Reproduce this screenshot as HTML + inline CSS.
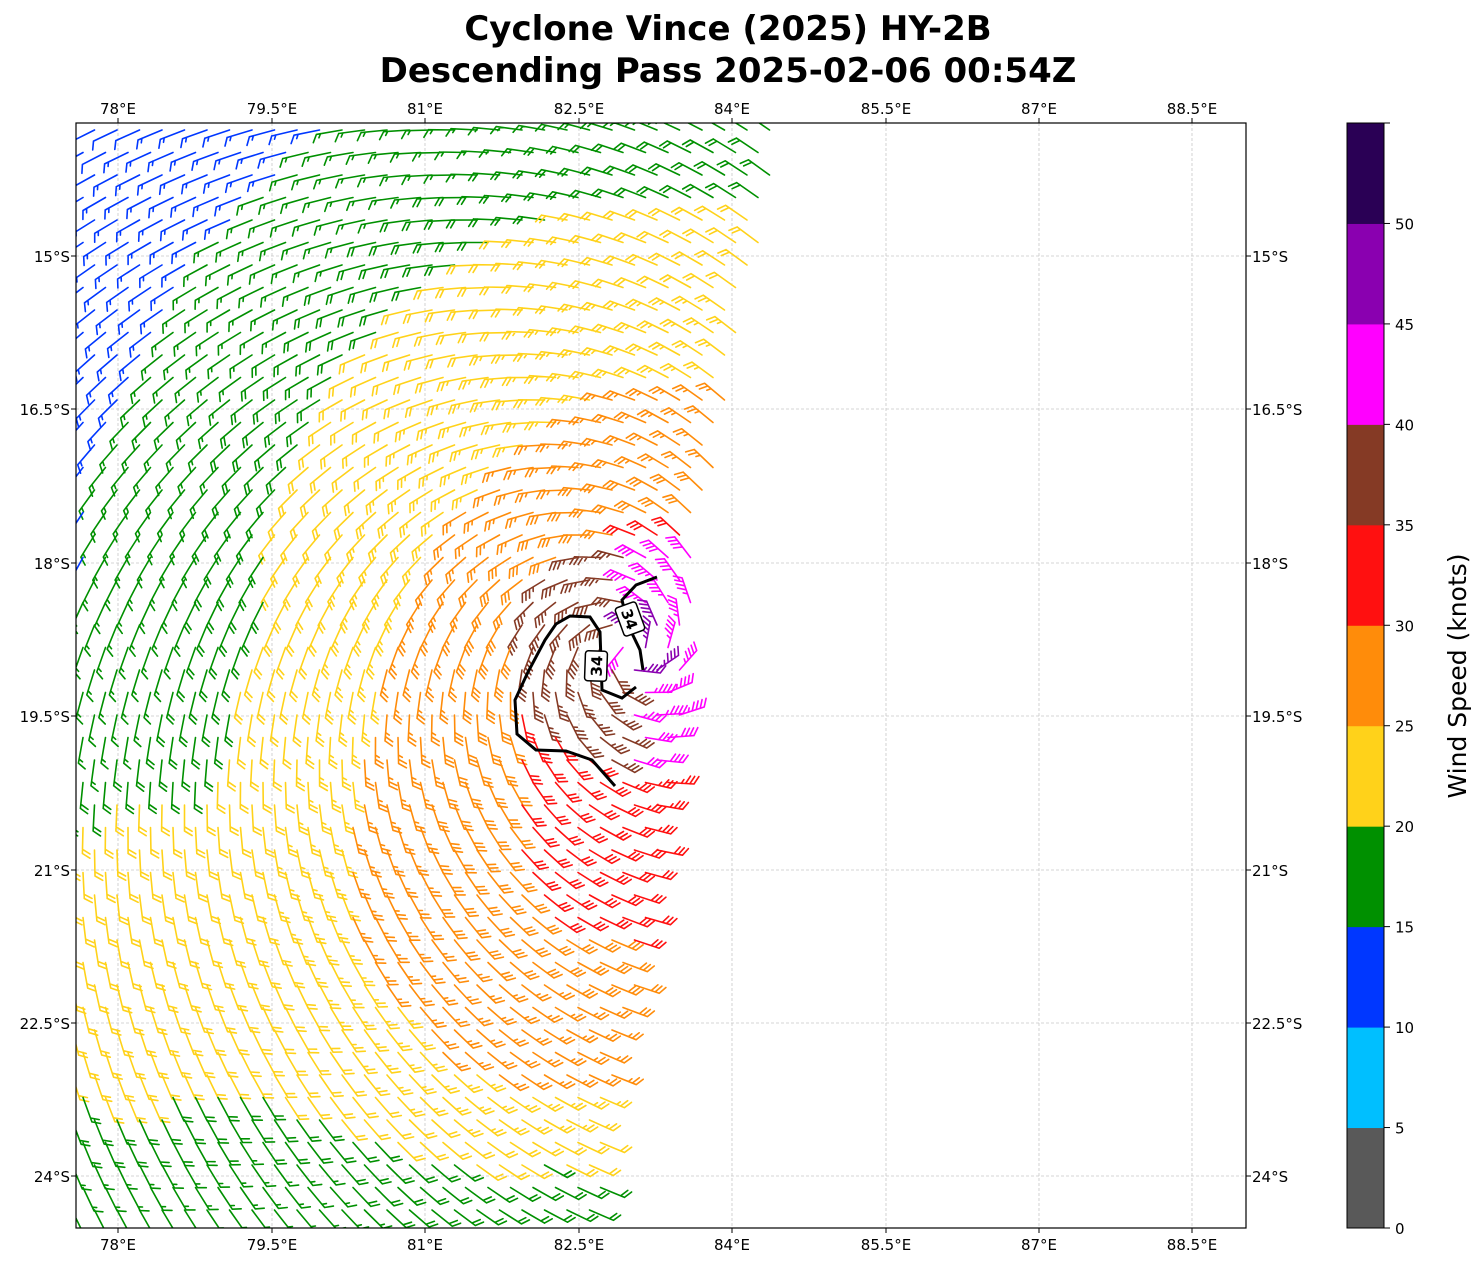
<!DOCTYPE html>
<html><head><meta charset="utf-8"><style>
body{margin:0;background:#fff;}
svg text{font-family:"DejaVu Sans","Liberation Sans",sans-serif;}
</style></head><body>
<svg id="s" width="1484" height="1264" xmlns="http://www.w3.org/2000/svg">
<defs><clipPath id="c"><rect x="76" y="123" width="1170" height="1105"/></clipPath></defs>
<rect width="1484" height="1264" fill="#fff"/>
<text x="728" y="40" font-size="34" font-weight="bold" text-anchor="middle">Cyclone Vince (2025) HY-2B</text>
<text x="728" y="82" font-size="34" font-weight="bold" text-anchor="middle">Descending Pass 2025-02-06 00:54Z</text>
<g id="grid" stroke="#c8c8c8" stroke-width="0.8" stroke-dasharray="3,2"></g>
<g id="barbs" clip-path="url(#c)" stroke-width="1.6" fill="none" stroke-linecap="round"></g>
<g fill="none" stroke="#000" stroke-width="3" clip-path="url(#c)">
<path d="M657,577 L636,585 L622,600 L628,625 L640,650 L643,670"/>
<path d="M636,687 L622,698 L602,690 L600,632 L590,617 L570,616 L556,624 L545,640 L528,672 L515,700 L517,734 L536,750 L566,751 L592,760 L615,786"/>
</g>
<g transform="translate(630,619) rotate(70)"><rect x="-15" y="-11" width="30" height="22" rx="3" fill="#fff" stroke="#000" stroke-width="1.5"/><text x="0" y="6" font-size="15" font-weight="bold" text-anchor="middle">34</text></g>
<g transform="translate(596,666) rotate(-88)"><rect x="-15" y="-11" width="30" height="22" rx="3" fill="#fff" stroke="#000" stroke-width="1.5"/><text x="0" y="6" font-size="15" font-weight="bold" text-anchor="middle">34</text></g>
<rect x="76" y="123" width="1170" height="1105" fill="none" stroke="#000" stroke-width="1.2"/>
<g id="ticks" font-size="15"></g>
<g id="cb"></g>
<text transform="translate(1466,676) rotate(-90)" font-size="25" text-anchor="middle">Wind Speed (knots)</text>
</svg>
<script>
var NS="http://www.w3.org/2000/svg";
function el(t,a,p,txt){var e=document.createElementNS(NS,t);for(var k in a)e.setAttribute(k,a[k]);if(txt!==undefined)e.textContent=txt;p.appendChild(e);return e;}
var G=document.getElementById('grid'),T=document.getElementById('ticks');
var lons=[["78°E",118],["79.5°E",272],["81°E",425],["82.5°E",579],["84°E",732],["85.5°E",886],["87°E",1039],["88.5°E",1192]];
var lats=[["15°S",256],["16.5°S",409],["18°S",563],["19.5°S",716],["21°S",870],["22.5°S",1023],["24°S",1176]];
lons.forEach(function(l){el('line',{x1:l[1],x2:l[1],y1:123,y2:1228},G);
el('text',{x:l[1],y:114,'text-anchor':'middle'},T,l[0]);el('text',{x:l[1],y:1250,'text-anchor':'middle'},T,l[0]);
el('line',{x1:l[1],x2:l[1],y1:123,y2:118,stroke:'#000'},T);el('line',{x1:l[1],x2:l[1],y1:1228,y2:1233,stroke:'#000'},T);});
lats.forEach(function(l){el('line',{x1:76,x2:1246,y1:l[1],y2:l[1]},G);
el('text',{x:70,y:l[1]+6,'text-anchor':'end'},T,l[0]);el('text',{x:1252,y:l[1]+6},T,l[0]);
el('line',{x1:76,x2:71,y1:l[1],y2:l[1],stroke:'#000'},T);el('line',{x1:1246,x2:1251,y1:l[1],y2:l[1],stroke:'#000'},T);});
var cols=["#595959","#00bfff","#0037ff","#009000","#ffd21a","#ff8c0a","#ff1010","#853a25","#ff00ff","#8a00b0","#2a0055"];
var CB=document.getElementById('cb');var h=1105/11;
for(var i=0;i<11;i++){el('rect',{x:1347,y:1228-(i+1)*h,width:37,height:h+0.5,fill:cols[i]},CB);}
el('rect',{x:1347,y:123,width:37,height:1105,fill:'none',stroke:'#000','stroke-width':1},CB);
for(var i=0;i<=10;i++){var y=1228-i*h;el('line',{x1:1384,x2:1390,y1:y,y2:y,stroke:'#000'},CB);el('text',{x:1395,y:y+6,'font-size':15},CB,String(i*5));}
el('line',{x1:1384,x2:1390,y1:123,y2:123,stroke:'#000'},CB);
var B=document.getElementById('barbs');
function xmax(y){var pts=[[123,782],[250,757],[400,727],[560,697],[650,690],[800,670],[900,652],[1000,632],[1100,612],[1240,596]];
for(var i=0;i<pts.length-1;i++){if(y<=pts[i+1][0]){var t=(y-pts[i][0])/(pts[i+1][0]-pts[i][0]);return pts[i][1]+t*(pts[i+1][1]-pts[i][1]);}}return 596;}
var cx=630,cy=650;
function clamp(v,a,b){return Math.max(a,Math.min(b,v));}
function barb(x,y,ux,uy,s,col){
 var L=26,px=uy,py=-ux;var tx=x+ux*L,ty=y+uy*L;
 var d="M"+x.toFixed(1)+","+y.toFixed(1)+"L"+tx.toFixed(1)+","+ty.toFixed(1);
 var r=Math.round(s/5)*5,n50=Math.floor(r/50);r-=n50*50;var n10=Math.floor(r/10);r-=n10*10;var n5=r>=5?1:0;
 var pos=0,f=9,sp=4.2,fill="";
 var fx=px*0.85+ux*0.5,fy=py*0.85+uy*0.5;
 for(var i=0;i<n50;i++){var ax=tx-ux*pos,ay=ty-uy*pos,bx=tx-ux*(pos+6),by=ty-uy*(pos+6);
  fill+="M"+ax+","+ay+"L"+(ax+px*f)+","+(ay+py*f)+"L"+bx+","+by+"Z";pos+=7;}
 for(var i=0;i<n10;i++){var ax=tx-ux*pos,ay=ty-uy*pos;d+="M"+ax.toFixed(1)+","+ay.toFixed(1)+"l"+(fx*f).toFixed(1)+","+(fy*f).toFixed(1);pos+=sp;}
 if(n5){if(pos==0)pos=sp;var ax=tx-ux*pos,ay=ty-uy*pos;d+="M"+ax.toFixed(1)+","+ay.toFixed(1)+"l"+(fx*f/2).toFixed(1)+","+(fy*f/2).toFixed(1);}
 el('path',{d:d,stroke:col},B);if(fill)el('path',{d:fill,fill:col,stroke:col,'stroke-width':1},B);
}
var row=0;
for(var y=130;y<1240;y+=22.5,row++){
 var xm=xmax(y);
 for(var x=72+(row%2)*11;x<xm;x+=22.5){
  var dx=x-cx,dy=y-cy,r=Math.sqrt(dx*dx+dy*dy)+1;
  var sx=x-680,sy=y-620;if(sy>0)sy*=0.7;var rs=Math.sqrt(sx*sx+sy*sy);
  var s=35-0.036*Math.min(rs,500)-0.02*Math.max(0,rs-500);
  if(sy>0)s+=4*clamp(sy/200,0,1);
  else s-=2*clamp(-sy/150,0,1)*clamp((400-rs)/200,0,1);
  if(y>760)s+=3*clamp((240-x)/120,0,1)*clamp((y-760)/60,0,1);
  s-=3.2*clamp((y-1080)/90,0,1);
  s-=1.5*clamp((y-900)/100,0,1)*clamp((x-450)/100,0,1);
  if(r<115){s=Math.max(s,35+(115-r)/115*6+(dx>0?6:0));}
  var k=0.35;
  var ux=dy/r+k*dx/r,uy=-dx/r+k*dy/r;var n=Math.sqrt(ux*ux+uy*uy);ux/=n;uy/=n;
  var bi=clamp(Math.floor(s/5),0,10);
  barb(x,y,ux,uy,s,cols[bi]);
 }
}
</script>
</body></html>
